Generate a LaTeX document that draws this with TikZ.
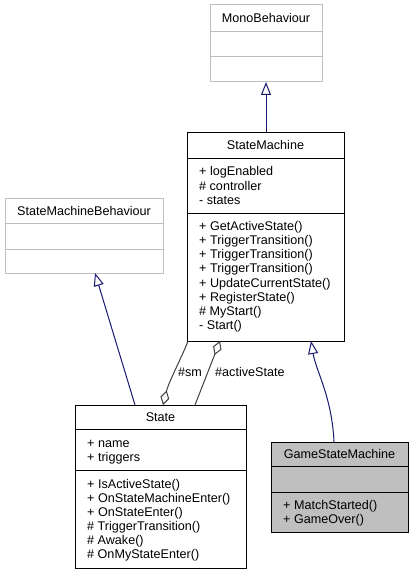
\documentclass[tikz,border=0pt]{standalone}
\usepackage{fontspec}
\setmainfont{Liberation Sans}
\usetikzlibrary{arrows.meta}
\definecolor{navyc}{HTML}{191970}
\definecolor{aggc}{HTML}{404040}
\definecolor{lgrey}{HTML}{BFBFBF}
\definecolor{gfill}{HTML}{BFBFBF}
\newcommand\fsz{\fontsize{12.6}{14}\selectfont}
\begin{document}
\begin{tikzpicture}[x=1pt,y=-1pt,
  box/.style={draw=black, line width=1pt, anchor=north west, inner sep=0pt, outer sep=0pt},
  extbox/.style={box, draw=lgrey},
  sec/.style={draw=black, line width=1pt},
  extsec/.style={draw=lgrey, line width=1pt},
  ttl/.style={font=\fsz, inner sep=0pt, anchor=base},
  itm/.style={font=\fsz, inner sep=0pt, anchor=base west},
  lbl/.style={font=\fsz, inner sep=0pt},
  gen/.style={draw=navyc, line width=1pt, -{Triangle[open, length=13pt, width=10pt, fill=white]}},
  agg/.style={draw=aggc, line width=1pt, {Diamond[open, length=15pt, width=9pt, fill=white]}-}
]
\useasboundingbox (0,0) rectangle (413,575);

% MonoBehaviour
\node[extbox, minimum width=112pt, minimum height=77pt] (mono) at (210,5) {};
\draw[extsec] (mono.west |- 0,32) -- (mono.east |- 0,32);
\draw[extsec] (mono.west |- 0,57) -- (mono.east |- 0,57);
\node[ttl] (monot) at (266,23) {MonoBehaviour};

% StateMachine
\node[box, minimum width=157pt, minimum height=209pt] (sm) at (187,132) {};
\draw[sec] (sm.west |- 0,158) -- (sm.east |- 0,158);
\draw[sec] (sm.west |- 0,213) -- (sm.east |- 0,213);
\node[ttl] (smt) at (265.5,149.5) {StateMachine};
\node[itm] (sma1) at (199,175.9) {+ logEnabled};
\node[itm] (sma2) at (199,190) {\# controller};
\node[itm] (sma3) at (199,204.2) {- states};
\node[itm] (smm1) at (199,230.5) {+ GetActiveState()};
\node[itm] (smm2) at (199,244.65) {+ TriggerTransition()};
\node[itm] (smm3) at (199,258.8) {+ TriggerTransition()};
\node[itm] (smm4) at (199,272.95) {+ TriggerTransition()};
\node[itm] (smm5) at (199,287.1) {+ UpdateCurrentState()};
\node[itm] (smm6) at (199,301.25) {+ RegisterState()};
\node[itm] (smm7) at (199,315.4) {\# MyStart()};
\node[itm] (smm8) at (199,329.55) {- Start()};

% StateMachineBehaviour
\node[extbox, minimum width=158pt, minimum height=75pt] (smb) at (5,198) {};
\draw[extsec] (smb.west |- 0,223) -- (smb.east |- 0,223);
\draw[extsec] (smb.west |- 0,249) -- (smb.east |- 0,249);
\node[ttl] (smbt) at (84,215) {StateMachineBehaviour};

% State
\node[box, minimum width=171pt, minimum height=163pt] (state) at (75,405) {};
\draw[sec] (state.west |- 0,429) -- (state.east |- 0,429);
\draw[sec] (state.west |- 0,470) -- (state.east |- 0,470);
\node[ttl] (statet) at (160.5,421.5) {State};
\node[itm] (sta1) at (87,447) {+ name};
\node[itm] (sta2) at (87,461) {+ triggers};
\node[itm] (stm1) at (87,488.1) {+ IsActiveState()};
\node[itm] (stm2) at (87,502.25) {+ OnStateMachineEnter()};
\node[itm] (stm3) at (87,516.4) {+ OnStateEnter()};
\node[itm] (stm4) at (87,530.55) {\# TriggerTransition()};
\node[itm] (stm5) at (87,544.7) {\# Awake()};
\node[itm] (stm6) at (87,558.85) {\# OnMyStateEnter()};

% GameStateMachine
\node[box, fill=gfill, minimum width=137pt, minimum height=90pt] (gsm) at (271,442) {};
\draw[sec] (gsm.west |- 0,466) -- (gsm.east |- 0,466);
\draw[sec] (gsm.west |- 0,492) -- (gsm.east |- 0,492);
\node[ttl] (gsmt) at (339.5,458.5) {GameStateMachine};
\node[itm] (gsmm1) at (283,509.5) {+ MatchStarted()};
\node[itm] (gsmm2) at (283,523.5) {+ GameOver()};

% generalisations
\draw[gen] (sm.north -| mono.south) -- (mono.south);
\draw[gen] ([xshift=60pt]state.north west) -- ([xshift=90pt]smb.south west);
\draw[gen] ([xshift=63pt]gsm.north west) .. controls +(-2,-45) and +(5,30) .. ([xshift=124pt]sm.south west);

% aggregations
\draw[agg] ([xshift=88pt]state.north west) .. controls +(6,-24) and +(-6,16) .. ([xshift=1pt]sm.south west);
\draw[agg] ([xshift=33pt]sm.south west) -- ([xshift=120pt]state.north west);
\node[lbl, anchor=base] (lsm) at (190,376.5) {\#sm};
\node[lbl, anchor=base west] (las) at (215,376.5) {\#activeState};
\end{tikzpicture}
\end{document}
